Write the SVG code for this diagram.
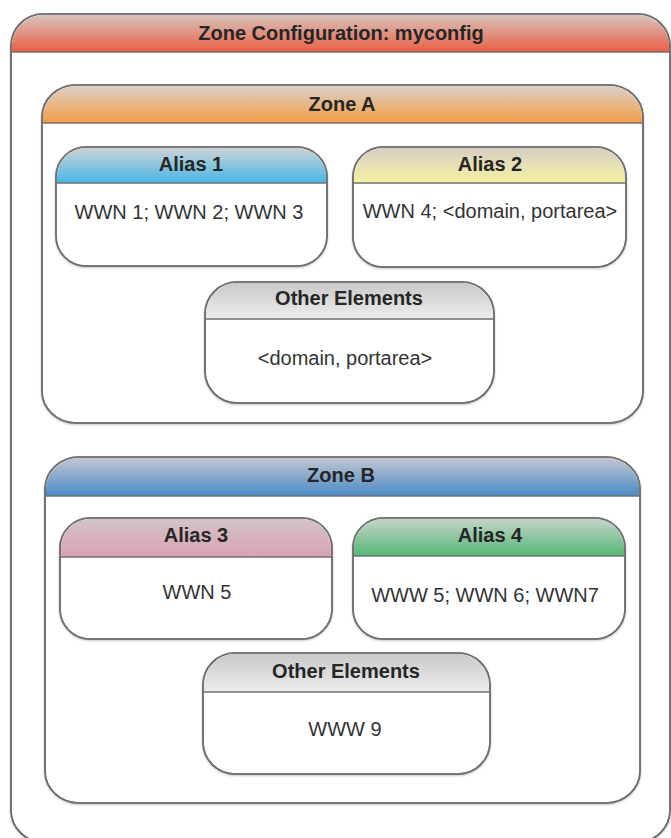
<svg xmlns="http://www.w3.org/2000/svg" width="671" height="838" viewBox="0 0 671 838">
<defs>
<linearGradient id="gCfg" x1="0" y1="0" x2="0" y2="1"><stop offset="0" stop-color="#d8c4bd"/><stop offset="1" stop-color="#ea5f45"/></linearGradient>
<linearGradient id="gZA" x1="0" y1="0" x2="0" y2="1"><stop offset="0" stop-color="#dcd1c8"/><stop offset="1" stop-color="#f29d45"/></linearGradient>
<linearGradient id="gZB" x1="0" y1="0" x2="0" y2="1"><stop offset="0" stop-color="#c3c6d2"/><stop offset="1" stop-color="#4a8ac6"/></linearGradient>
<linearGradient id="gA1" x1="0" y1="0" x2="0" y2="1"><stop offset="0" stop-color="#cdd3d7"/><stop offset="1" stop-color="#47b6e6"/></linearGradient>
<linearGradient id="gA2" x1="0" y1="0" x2="0" y2="1"><stop offset="0" stop-color="#d6cfc4"/><stop offset="1" stop-color="#f6f2a2"/></linearGradient>
<linearGradient id="gA3" x1="0" y1="0" x2="0" y2="1"><stop offset="0" stop-color="#d2c3c6"/><stop offset="1" stop-color="#dba2b4"/></linearGradient>
<linearGradient id="gA4" x1="0" y1="0" x2="0" y2="1"><stop offset="0" stop-color="#c6d4ca"/><stop offset="1" stop-color="#55b674"/></linearGradient>
<linearGradient id="gOE" x1="0" y1="0" x2="0" y2="1"><stop offset="0" stop-color="#c9c9c9"/><stop offset="1" stop-color="#ededed"/></linearGradient>
<filter id="sh" x="-5%" y="-5%" width="110%" height="110%"><feDropShadow dx="0" dy="1" stdDeviation="1" flood-color="#000" flood-opacity="0.25"/></filter>
</defs>
<style>
.box{fill:#fff;stroke:#707070;stroke-width:1.6;filter:url(#sh)}
.hd{stroke:none}
.sep{stroke:#707070;stroke-width:1.6;fill:none}
.edge{fill:none;stroke:#707070;stroke-width:1.6}
.t{font-family:"Liberation Sans",Arial,sans-serif;font-weight:bold;font-size:20px;fill:#262626;text-anchor:middle}
.b{font-family:"Liberation Sans",Arial,sans-serif;font-size:20px;fill:#333;text-anchor:middle}
</style>

<g id="zone-config">
<rect class="box" x="11" y="14" width="659" height="828" rx="32" ry="32"/>
<path class="hd" fill="url(#gCfg)" d="M11.8,52 V46 A32,32 0 0 1 43,14.8 H638 A32,32 0 0 1 669.2,46 V52 Z"/>
<line class="sep" x1="11" y1="52" x2="670" y2="52" stroke="#c8503c"/>
<rect class="edge" x="11" y="14" width="659" height="828" rx="32" ry="32"/>
<text class="t" x="341" y="40">Zone Configuration: myconfig</text>
</g>

<g id="zone-a">
<rect class="box" x="42" y="85" width="601" height="338" rx="34" ry="32"/>
<path class="hd" fill="url(#gZA)" d="M42.8,123 V117 A34,32 0 0 1 76,85.8 H609 A34,32 0 0 1 642.2,117 V123 Z"/>
<line class="sep" x1="42" y1="123" x2="643" y2="123" stroke="#c98a4a"/>
<rect class="edge" x="42" y="85" width="601" height="338" rx="34" ry="32"/>
<text class="t" x="342" y="111">Zone A</text>
</g>

<g id="alias-1">
<rect class="box" x="56" y="147" width="271" height="119" rx="30" ry="30"/>
<path class="hd" fill="url(#gA1)" d="M56.8,183 V177 A30,30 0 0 1 86,147.8 H297 A30,30 0 0 1 326.2,177 V183 Z"/>
<line class="sep" x1="56" y1="183" x2="327" y2="183"/>
<rect class="edge" x="56" y="147" width="271" height="119" rx="30" ry="30"/>
<text class="t" x="191" y="171">Alias 1</text>
<text class="b" x="189" y="219">WWN 1; WWN 2; WWN 3</text>
</g>

<g id="alias-2">
<rect class="box" x="353" y="147" width="273" height="120" rx="30" ry="30"/>
<path class="hd" fill="url(#gA2)" d="M353.8,183 V177 A30,30 0 0 1 383,147.8 H596 A30,30 0 0 1 625.2,177 V183 Z"/>
<line class="sep" x1="353" y1="183" x2="626" y2="183"/>
<rect class="edge" x="353" y="147" width="273" height="120" rx="30" ry="30"/>
<text class="t" x="490" y="171">Alias 2</text>
<text class="b" x="490" y="218">WWN 4; &lt;domain, portarea&gt;</text>
</g>

<g id="other-elements-a">
<rect class="box" x="205" y="282" width="289" height="121" rx="32" ry="32"/>
<path class="hd" fill="url(#gOE)" d="M205.8,319 V314 A32,32 0 0 1 237,282.8 H462 A32,32 0 0 1 493.2,314 V319 Z"/>
<line class="sep" x1="205" y1="319" x2="494" y2="319"/>
<rect class="edge" x="205" y="282" width="289" height="121" rx="32" ry="32"/>
<text class="t" x="349" y="305">Other Elements</text>
<text class="b" x="345" y="365">&lt;domain, portarea&gt;</text>
</g>

<g id="zone-b">
<rect class="box" x="45" y="457" width="595" height="346" rx="34" ry="32"/>
<path class="hd" fill="url(#gZB)" d="M45.8,496 V489 A34,32 0 0 1 79,457.8 H606 A34,32 0 0 1 639.2,489 V496 Z"/>
<line class="sep" x1="45" y1="496" x2="640" y2="496" stroke="#4a78a8"/>
<rect class="edge" x="45" y="457" width="595" height="346" rx="34" ry="32"/>
<text class="t" x="341" y="482">Zone B</text>
</g>

<g id="alias-3">
<rect class="box" x="60" y="518" width="272" height="121" rx="30" ry="30"/>
<path class="hd" fill="url(#gA3)" d="M60.8,557 V548 A30,30 0 0 1 90,518.8 H302 A30,30 0 0 1 331.2,548 V557 Z"/>
<line class="sep" x1="60" y1="557" x2="332" y2="557"/>
<rect class="edge" x="60" y="518" width="272" height="121" rx="30" ry="30"/>
<text class="t" x="196" y="542">Alias 3</text>
<text class="b" x="197" y="599">WWN 5</text>
</g>

<g id="alias-4">
<rect class="box" x="353" y="518" width="272" height="121" rx="30" ry="30"/>
<path class="hd" fill="url(#gA4)" d="M353.8,556 V548 A30,30 0 0 1 383,518.8 H595 A30,30 0 0 1 624.2,548 V556 Z"/>
<line class="sep" x1="353" y1="556" x2="625" y2="556"/>
<rect class="edge" x="353" y="518" width="272" height="121" rx="30" ry="30"/>
<text class="t" x="490" y="542">Alias 4</text>
<text class="b" x="485" y="602">WWW 5; WWN 6; WWN7</text>
</g>

<g id="other-elements-b">
<rect class="box" x="203" y="653" width="287" height="121" rx="32" ry="32"/>
<path class="hd" fill="url(#gOE)" d="M203.8,692 V685 A32,32 0 0 1 235,653.8 H458 A32,32 0 0 1 489.2,685 V692 Z"/>
<line class="sep" x1="203" y1="692" x2="490" y2="692"/>
<rect class="edge" x="203" y="653" width="287" height="121" rx="32" ry="32"/>
<text class="t" x="346" y="678">Other Elements</text>
<text class="b" x="345" y="736">WWW 9</text>
</g>

<g id="connectors"></g>
</svg>
